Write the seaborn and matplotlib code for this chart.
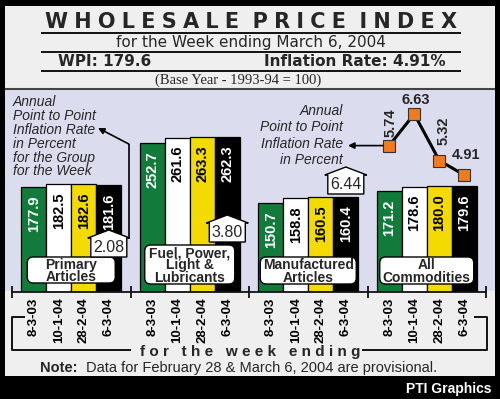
import matplotlib
matplotlib.use("Agg")
import matplotlib.pyplot as plt
import numpy as np
import pandas as pd
import seaborn as sns
from matplotlib.patches import Rectangle, FancyBboxPatch, Polygon
from matplotlib.lines import Line2D

# ---------------- data ----------------
groups = ["Primary Articles", "Fuel, Power, Light & Lubricants",
          "Manufactured Articles", "All Commodities"]
group_labels = ["Primary\nArticles", "Fuel, Power,\nLight &\nLubricants",
                "Manufactured\nArticles", "All\nCommodities"]
weeks = ["8-3-03", "10-1-04", "28-2-04", "6-3-04"]
primary = [177.9, 182.5, 182.6, 181.6]
fuel = [252.7, 261.6, 263.3, 262.3]
manufactured = [150.7, 158.8, 160.5, 160.4]
all_commodities = [171.2, 178.6, 180.0, 179.6]
group_inflation = [2.08, 3.80, 6.44]
wpi_inflation = [5.74, 6.63, 5.32, 4.91]

# ---------------- style ----------------
sns.set_theme(style="white")
NARROW = ["Liberation Sans Narrow", "Liberation Sans", "DejaVu Sans"]
SANS = ["Liberation Sans", "DejaVu Sans"]
plt.rcParams["font.family"] = SANS

GREEN, WHITE, YELLOW, BLACK = "#127a3a", "#ffffff", "#f3da00", "#000000"
bar_colors = [GREEN, WHITE, YELLOW, BLACK]
label_colors = ["white", "black", "black", "white"]
ORANGE = "#f07a1c"

W, H = 500, 399
fig = plt.figure(figsize=(W / 100, H / 100), dpi=100, facecolor="black")
T = fig.dpi_scale_trans


def P(x, y):
    """image pixel -> inches (for dpi_scale_trans)"""
    return (x / 100.0, (H - y) / 100.0)


def line(xs, ys, lw=1.3, color="black", z=5):
    pts = [P(x, y) for x, y in zip(xs, ys)]
    fig.add_artist(Line2D([p[0] for p in pts], [p[1] for p in pts], transform=T,
                          color=color, lw=lw, zorder=z, solid_capstyle="butt"))


def rect(x0, y0, x1, y1, color, z=-10):
    fig.add_artist(Rectangle(P(x0, y1), (x1 - x0) / 100, (y1 - y0) / 100, transform=T,
                             facecolor=color, edgecolor="none", zorder=z))


def text(x, y, s, **kw):
    return fig.text(*P(x, y), s, transform=T, **kw)


# backgrounds
rect(5, 6, 495, 376, "#efefef")
rect(5, 89, 495, 291, "#dcdcef", z=-9)
line([5, 495], [89, 89], lw=1.5, color="#444444")

# ---------------- header ----------------
sp = "\u2009\u200a"
title = sp.join("WHOLESALE") + sp + " " + sp.join("PRICE") + sp + " " + sp.join("INDEX")
text(251, 22, title, ha="center", va="center", fontsize=15, fontweight="bold",
     family=["DejaVu Sans"])
line([41, 461], [33, 33], lw=1.3)
text(251, 43, "for the Week ending March 6, 2004", ha="center", va="center",
     fontsize=11, family=["DejaVu Sans"])
line([41, 461], [52, 52], lw=1.3)
text(58, 61, "WPI: 179.6", ha="left", va="center", fontsize=11, fontweight="bold",
     family=["DejaVu Sans"])
text(446, 61, "Inflation Rate: 4.91%", ha="right", va="center", fontsize=11,
     fontweight="bold", family=["DejaVu Sans"])
line([41, 461], [71, 71], lw=1.3)
text(238, 80, "(Base Year - 1993-94 = 100)", ha="center", va="center",
     fontsize=10.5, family=["Liberation Serif", "DejaVu Serif"])

# ---------------- bars ----------------
df = pd.DataFrame({
    "group": np.repeat(groups, len(weeks)),
    "week": weeks * len(groups),
    "value": primary + fuel + manufactured + all_commodities,
})

ax = fig.add_axes([12 / W, (H - 292) / H, 474 / W, 203 / H])
ax.patch.set_alpha(0)
sns.barplot(data=df, x="group", y="value", hue="week", order=groups, hue_order=weeks,
            palette=dict(zip(weeks, bar_colors)), saturation=1, width=0.845,
            edgecolor="black", linewidth=0.9, errorbar=None, legend=False, ax=ax, zorder=2)
ax.set_xlim(-0.5, 3.5)
ax.set_ylim(0, 344)
ax.set_xlabel("")
ax.set_ylabel("")
ax.set_yticks([])
for s in ["top", "right", "left"]:
    ax.spines[s].set_visible(False)
ax.spines["bottom"].set_color("#111111")
ax.spines["bottom"].set_linewidth(1.3)
ax.spines["bottom"].set_zorder(6)

# value labels inside bars
centers = []
for hi, cont in enumerate(ax.containers):
    for bar in cont.patches:
        cx = bar.get_x() + bar.get_width() / 2
        h = bar.get_height()
        centers.append(cx)
        ax.annotate(f"{h:.1f}", xy=(cx, h), xytext=(0, -6), textcoords="offset points",
                    rotation=90, ha="center", va="top", color=label_colors[hi],
                    fontsize=10.5, fontweight="bold", family=NARROW, zorder=4)

tick_pos = sorted(centers)
ax.set_xticks(tick_pos)
ax.set_xticklabels(weeks * len(groups), rotation=90, fontsize=9.5, fontweight="bold",
                   family=NARROW)
ax.set_xticks([-0.5, 0.5, 1.5, 2.5, 3.5], minor=True)
ax.tick_params(axis="x", which="major", length=0, pad=4, colors="black")
ax.tick_params(axis="x", which="minor", length=9, width=1.3, direction="inout",
               color="#111111", bottom=True)


def px_x(xd):
    return ax.transData.transform((xd, 0))[0]


# group label boxes
box_spans = [(257, 283), (245, 284), (257, 284), (257, 284)]
box_widths = [88, 90, 96, 94]
for gi, lab in enumerate(group_labels):
    xc = px_x(gi)
    y0, y1 = box_spans[gi]
    bw = box_widths[gi]
    fig.add_artist(FancyBboxPatch(P(xc - bw / 2, y1), bw / 100, (y1 - y0) / 100, transform=T,
                                  boxstyle="round,pad=0,rounding_size=0.06",
                                  facecolor="white", edgecolor="black", lw=1.0, zorder=7))
    text(xc, (y0 + y1) / 2 + 1, lab, ha="center", va="center", multialignment="center",
         fontsize=10, fontweight="bold", linespacing=0.85, zorder=8)

# group inflation callouts (house-shaped)
black_cont = ax.containers[-1]
peaks = [230, 215, 167]
for gi, rate in enumerate(group_inflation):
    bar = black_cont.patches[gi]
    xc = px_x(bar.get_x() + bar.get_width() / 2)
    top = peaks[gi]
    pts = [(xc - 18, top + 27), (xc + 18, top + 27), (xc + 18, top + 8), (xc + 21, top + 8),
           (xc, top), (xc - 21, top + 8), (xc - 18, top + 8)]
    fig.add_artist(Polygon([P(*p) for p in pts], closed=True, transform=T,
                           facecolor="white", edgecolor="black", lw=1.0, zorder=7))
    text(xc, top + 17.5, f"{rate:.2f}", ha="center", va="center", fontsize=11.5,
         family=NARROW, zorder=8)
    if gi == 0:
        xline = xc + 20
        line([xline, xline], [top + 7, 144], lw=1.2)
        ax.annotate("", xy=(98, H - 128), xytext=(xline, H - 144), xycoords="figure pixels",
                    textcoords="figure pixels", annotation_clip=False,
                    arrowprops=dict(arrowstyle="-|>", color="black", lw=1.2,
                                    mutation_scale=9, shrinkA=0, shrinkB=0))

text(13, 95, "Annual\nPoint to Point\nInflation Rate\nin Percent\nfor the Group\nfor the Week",
     ha="left", va="top", fontsize=10, fontstyle="italic", linespacing=0.99)

# ---------------- WPI inflation line ----------------
ax2 = fig.add_axes(ax.get_position())
line_x = [cont.patches[3].get_x() + cont.patches[3].get_width() / 2 for cont in ax.containers]
sns.lineplot(x=line_x, y=wpi_inflation, ax=ax2, color="black", lw=2.2, marker="s",
             markersize=8, markerfacecolor=ORANGE, markeredgecolor="#333333",
             markeredgewidth=0.8, legend=False)
ax2.set_xlim(-0.5, 3.5)
ax2.set_ylim(1.616, 7.334)
ax2.set_axis_off()
rot = [90, 0, 90, 0]
offs = [(1, 6.5), (1, 5), (3, 11), (1, 9.5)]
for xv, yv, r, o in zip(line_x, wpi_inflation, rot, offs):
    ax2.annotate(f"{yv:.2f}", xy=(xv, yv), xytext=o, textcoords="offset points",
                 rotation=r, ha="center", va="bottom", fontsize=10.5, fontweight="bold")

sq0 = ax2.transData.transform((line_x[0], wpi_inflation[0]))
ax2.annotate("", xy=(348, sq0[1]), xytext=(sq0[0] - 6, sq0[1]), xycoords="figure pixels",
             textcoords="figure pixels", annotation_clip=False,
             arrowprops=dict(arrowstyle="-|>", color="black", lw=1.2,
                             mutation_scale=9, shrinkA=0, shrinkB=0))
text(343, 104, "Annual\nPoint to Point\nInflation Rate\nin Percent",
     ha="right", va="top", multialignment="right", fontsize=10, fontstyle="italic",
     linespacing=1.22)

# ---------------- bottom bracket & notes ----------------
line([25, 12, 12, 131], [317, 317, 350, 350], lw=1.3)
line([362, 487, 487, 474], [350, 350, 317, 317], lw=1.3)
text(250, 352, "f o r   t h e   w e e k   e n d i n g", ha="center", va="center",
     fontsize=11, fontweight="bold")
text(40, 368, "Note:", ha="left", va="center", fontsize=10.5, fontweight="bold")
text(86, 368, "Data for February 28 & March 6, 2004 are provisional.", ha="left",
     va="center", fontsize=10.5)
text(492, 389, "PTI Graphics", ha="right", va="center", fontsize=10, fontweight="bold",
     color="white")

fig.savefig("out.png", dpi=100, facecolor="black")
